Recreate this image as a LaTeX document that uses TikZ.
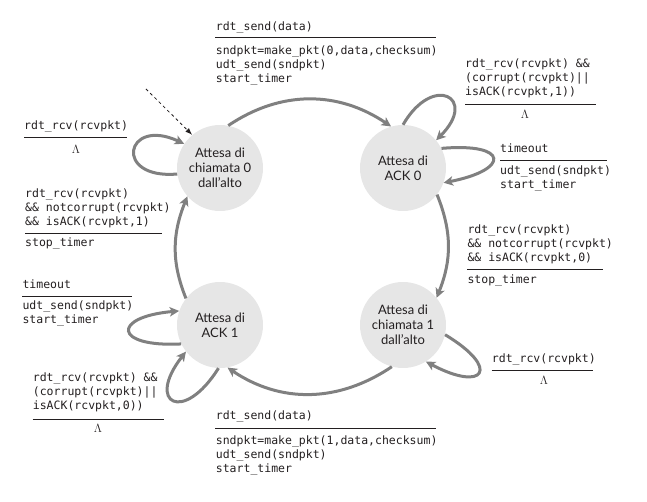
\documentclass[tikz,border=0pt]{standalone}
\usepackage{fontspec}
\usetikzlibrary{arrows.meta}
\newfontfamily\codefont{DejaVu Sans Mono}
\newfontfamily\statefont{Lato}
\definecolor{arcgray}{HTML}{808080}
\definecolor{sfill}{HTML}{E6E6E6}
\definecolor{ink}{HTML}{231F20}
\newcommand\ml[1]{\begin{tabular}[t]{@{}l@{}}#1\end{tabular}}
\begin{document}
\begin{tikzpicture}[x=1pt,y=1pt,
 state/.style={circle,fill=sfill,minimum size=86pt,inner sep=0pt,align=center,font=\statefont\fontsize{13}{15}\selectfont,text=ink},
 trans/.style={draw=arcgray,line width=3pt,-{Stealth[length=9.5pt,width=9.5pt,inset=2.5pt]}},
 lbl/.style={anchor=base west,inner sep=0pt,text=ink,font=\codefont\fontsize{11.5}{14}\selectfont},
 lam/.style={anchor=base,inner sep=0pt,text=ink,font=\fontsize{12.5}{14}\selectfont},
 rulel/.style={draw=ink,line width=1pt}]
\useasboundingbox (0,0) rectangle (647,502);

\node[state] (n0) at (220,334) {Attesa di\\chiamata 0\\dall’alto};
\node[state] (a0) at (403,334) {Attesa di\\ACK 0};
\node[state] (a1) at (220,177) {Attesa di\\ACK 1};
\node[state] (n1) at (403,177) {Attesa di\\chiamata 1\\dall’alto};

\draw[trans] (n0.79) to[out=34,in=146] (a0.106);
\draw[trans] (a0.-38) to[out=-68,in=68] (n1.39);
\draw[trans] (n1.-105) to[out=-146,in=-34] (a1.-80);
\draw[trans] (a1.142) to[out=112,in=-112] (n0.221);

\draw[trans] (n0.188) .. controls +(185:65) and +(155:65) .. (n0.146);
\draw[trans] (a0.90) .. controls +(60:60) and +(45:60) .. (a0.40);
\draw[trans] (a0.27) .. controls +(5:68) and +(11:68) .. (a0.-20);
\draw[trans] (a1.206) .. controls +(183:68) and +(185:68) .. (a1.161);
\draw[trans] (a1.-92) .. controls +(238:66) and +(232:66) .. (a1.218);
\draw[trans] (n1.-13) .. controls +(-31:66) and +(-28:66) .. (n1.-58);

\coordinate (d0) at (146,413);
\draw[ink,dashed,line width=0.8pt,-{Latex[length=7pt,width=5pt]}] (d0) -- (n0.130);

% top transition
\node[lbl] (e1) at (215.7,471.3) {rdt\_send(data)};
\draw[rulel] (215,464.3) -- (436,464.3);
\node[lbl] (x1) at (215.7,447) {\ml{sndpkt=make\_pkt(0,data,checksum)\\udt\_send(sndpkt)\\start\_timer}};

% n0 loop
\node[lbl] (e2) at (24,372) {rdt\_rcv(rcvpkt)};
\draw[rulel] (24,364.3) -- (127,364.3);
\node[lam] (x2) at (76,348.7) {$\Lambda$};

% a1 -> n0
\node[lbl] (e3) at (25,304.7) {\ml{rdt\_rcv(rcvpkt)\\\&\& notcorrupt(rcvpkt)\\\&\& isACK(rcvpkt,1)}};
\draw[rulel] (25,268.7) -- (162,268.7);
\node[lbl] (x3) at (25,255.3) {stop\_timer};

% a0 top loop
\node[lbl] (e4) at (465,434.7) {\ml{rdt\_rcv(rcvpkt) \&\&\\(corrupt(rcvpkt)||\\isACK(rcvpkt,1))}};
\draw[rulel] (465,397) -- (596,397);
\node[lam] (x4) at (525,383.7) {$\Lambda$};

% a0 timeout
\node[lbl] (e5) at (500,349.3) {timeout};
\draw[rulel] (500,341) -- (607,341);
\node[lbl] (x5) at (500,327) {\ml{udt\_send(sndpkt)\\start\_timer}};

% a0 -> n1
\node[lbl] (e6) at (467.3,268.7) {\ml{rdt\_rcv(rcvpkt)\\\&\& notcorrupt(rcvpkt)\\\&\& isACK(rcvpkt,0)}};
\draw[rulel] (467,232) -- (603,232);
\node[lbl] (x6) at (467.3,218) {stop\_timer};

% a1 timeout
\node[lbl] (e7) at (22.3,213.7) {timeout};
\draw[rulel] (22,205.3) -- (132,205.3);
\node[lbl] (x7) at (22.3,192) {\ml{udt\_send(sndpkt)\\start\_timer}};

% a1 bottom loop
\node[lbl] (e8) at (32.7,120.3) {\ml{rdt\_rcv(rcvpkt) \&\&\\(corrupt(rcvpkt)||\\isACK(rcvpkt,0))}};
\draw[rulel] (32.7,82.7) -- (164,82.7);
\node[lam] (x8) at (98,69) {$\Lambda$};

% bottom transition
\node[lbl] (e9) at (215.7,82) {rdt\_send(data)};
\draw[rulel] (215,73.7) -- (436,73.7);
\node[lbl] (x9) at (215.7,57) {\ml{sndpkt=make\_pkt(1,data,checksum)\\udt\_send(sndpkt)\\start\_timer}};

% n1 loop
\node[lbl] (e10) at (491.7,139.3) {rdt\_rcv(rcvpkt)};
\draw[rulel] (491.7,131) -- (592.7,131);
\node[lam] (x10) at (544,117) {$\Lambda$};
\end{tikzpicture}
\end{document}
